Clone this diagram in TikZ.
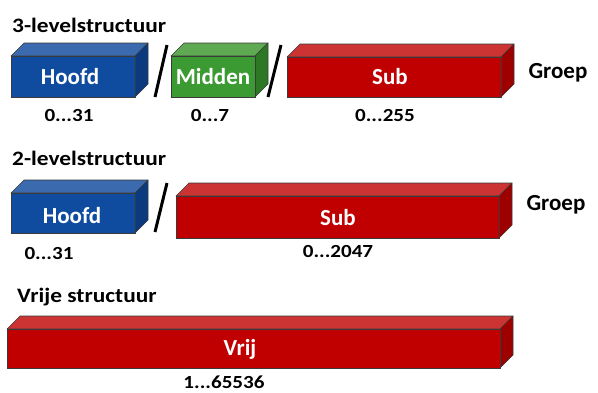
\documentclass[tikz,border=0pt]{standalone}
\usepackage{fontspec}
\setmainfont{Carlito}
\newfontfamily\widefont{Carlito}[FakeStretch=1.14]
\definecolor{bluef}{HTML}{0F4C9F}
\definecolor{bluet}{HTML}{3B6BAE}
\definecolor{blues}{HTML}{0B3A7E}
\definecolor{greenf}{HTML}{3C9A33}
\definecolor{greent}{HTML}{5FA952}
\definecolor{greens}{HTML}{2C7825}
\definecolor{redf}{HTML}{C00000}
\definecolor{redt}{HTML}{CC3333}
\definecolor{reds}{HTML}{9E0000}
\definecolor{edgec}{HTML}{3A3A3A}
\newcommand\cuboid[7]{%
  \filldraw[fill=#6,draw=edgec,line width=0.6pt,line join=round] (#1,#2) -- (#1+13,#2-13) -- (#3+13,#2-13) -- (#3,#2) -- cycle;
  \filldraw[fill=#7,draw=edgec,line width=0.6pt,line join=round] (#3,#2) -- (#3+13,#2-13) -- (#3+13,#4-13) -- (#3,#4) -- cycle;
  \filldraw[fill=#5,draw=edgec,line width=0.6pt] (#1,#2) rectangle (#3,#4);
}
\tikzset{
  titletext/.style={font=\widefont\bfseries\fontsize{20.5}{24}\selectfont,anchor=west,inner sep=0pt},
  boxlabel/.style={font=\bfseries\fontsize{23}{27}\selectfont,text=white,inner sep=0pt},
  rangelbl/.style={font=\widefont\bfseries\fontsize{18.5}{22}\selectfont,inner sep=0pt},
  groeplbl/.style={font=\bfseries\fontsize{23}{27}\selectfont,inner sep=0pt},
  slashline/.style={line width=3pt,black}
}
\begin{document}
\begin{tikzpicture}[x=1pt,y=-1pt]
\useasboundingbox (0,0) rectangle (598,392);
% row 1
\node[titletext] (t1) at (12,25) {3-levelstructuur};
\cuboid{11}{56}{135}{97}{bluef}{bluet}{blues}
\cuboid{171}{56}{255}{97}{greenf}{greent}{greens}
\cuboid{287}{57}{501}{97}{redf}{redt}{reds}
\node[boxlabel] (h1) at (70,77) {Hoofd};
\node[boxlabel] (m1) at (213,77) {Midden};
\node[boxlabel] (s1) at (390,77) {Sub};
\coordinate (a1) at (155,97); \coordinate (b1) at (167,45);
\coordinate (a2) at (268,97); \coordinate (b2) at (281,45);
\draw[slashline] (a1) -- (b1);
\draw[slashline] (a2) -- (b2);
\node[rangelbl] (r1) at (69,115) {0...31};
\node[rangelbl] (r2) at (210,115) {0...7};
\node[rangelbl] (r3) at (385,115) {0...255};
\node[groeplbl] (g1) at (558,73) {Groep};
% row 2
\node[titletext] (t2) at (12,158) {2-levelstructuur};
\cuboid{11}{193}{135}{233}{bluef}{bluet}{blues}
\cuboid{176}{196}{499}{238}{redf}{redt}{reds}
\node[boxlabel] (h2) at (72,216) {Hoofd};
\node[boxlabel] (s2) at (338,218) {Sub};
\coordinate (a3) at (155,232); \coordinate (b3) at (167,183);
\draw[slashline] (a3) -- (b3);
\node[rangelbl] (r4) at (49,253) {0...31};
\node[rangelbl] (r5) at (338,251) {0...2047};
\node[groeplbl] (g2) at (556,205) {Groep};
% row 3
\node[titletext] (t3) at (17,297) {Vrije structuur};
\cuboid{7}{329}{500}{368}{redf}{redt}{reds}
\node[boxlabel] (v) at (240,349) {Vrij};
\node[rangelbl] (r6) at (224,382) {1...65536};
\end{tikzpicture}
\end{document}
